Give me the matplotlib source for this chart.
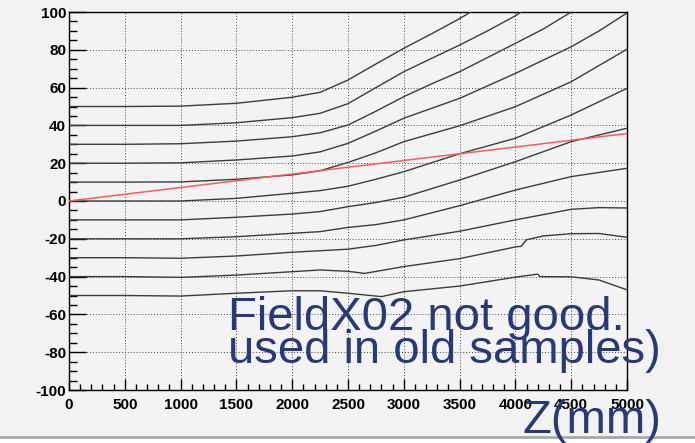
import matplotlib
matplotlib.use("Agg")
import matplotlib.pyplot as plt
from matplotlib.lines import Line2D
from matplotlib.patches import Rectangle
from matplotlib.ticker import MultipleLocator

plt.rcParams["axes.unicode_minus"] = False

# field lines: z position (mm) and transverse value
z_l1 = [0, 500, 1000, 1500, 2000, 2250, 2500, 2750, 3000, 3250, 3500, 3600]
v_l1 = [50, 50, 50.2, 51.7, 54.9, 57.5, 64, 72.5, 80.8, 88.5, 96.5, 100]

z_l2 = [0, 500, 1000, 1500, 2000, 2250, 2500, 2750, 3000, 3250, 3500, 3750, 4000, 4050]
v_l2 = [40, 40, 40, 41.4, 44.1, 46.4, 51.5, 60, 68.4, 75.5, 82.5, 90, 98, 100]

z_l3 = [0, 500, 1000, 1500, 2000, 2250, 2500, 2750, 3000, 3250, 3500, 4000, 4250, 4500]
v_l3 = [30, 30, 30.3, 31.7, 34, 36.1, 40.2, 47.5, 55.2, 62, 68.4, 83.4, 91, 100]

z_l4 = [0, 500, 1000, 1500, 2000, 2250, 2500, 2750, 3000, 3500, 4000, 4500, 4750, 5000]
v_l4 = [20, 20, 20.2, 21.7, 23.8, 26, 30.5, 37, 43.8, 54.3, 67.5, 81.6, 90, 99.5]

z_l5 = [0, 500, 1000, 1500, 2000, 2250, 2500, 2750, 3000, 3500, 4000, 4500, 5000]
v_l5 = [10, 10, 10.1, 11.5, 13.8, 16, 20.4, 25.5, 31.4, 39.8, 49.9, 63.1, 80.3]

z_l6 = [0, 500, 1000, 1500, 2000, 2250, 2500, 2750, 3000, 3500, 4000, 4500, 5000]
v_l6 = [0, 0, 0, 1.4, 4.1, 5.5, 7.8, 11.5, 15.5, 25, 33.2, 45.5, 59.6]

z_l7 = [0, 500, 1000, 1500, 2000, 2250, 2500, 2750, 3000, 3500, 4000, 4500, 5000]
v_l7 = [-10, -10, -10, -8.6, -6.9, -5.6, -3, -0.8, 2, 11.1, 20.8, 31.4, 38.5]

z_l8 = [0, 500, 1000, 1500, 2000, 2250, 2500, 2750, 3000, 3500, 4000, 4500, 5000]
v_l8 = [-20, -20, -20, -18.9, -17.1, -16.2, -14, -12.5, -10, -2.5, 5.8, 12.9, 17.3]

z_l9 = [0, 500, 1000, 1500, 2000, 2250, 2500, 2750, 3000, 3500, 4000, 4500, 4750, 5000]
v_l9 = [-30, -30, -30.3, -29.1, -27.1, -26.3, -25.5, -23.5, -20.6, -16, -10, -4.4, -3.5, -3.7]

z_l10 = [0, 500, 1000, 1500, 2000, 2250, 2500, 2650, 3000, 3500, 4000, 4050, 4100,
         4250, 4500, 4750, 5000]
v_l10 = [-40, -40, -40.4, -39.2, -37.4, -36.5, -37.2, -38.3, -34.7, -30.5, -24.3, -24,
         -20.5, -18.5, -17.3, -17.2, -19.2]

z_l11 = [0, 500, 1000, 1500, 2000, 2250, 2500, 2800, 3000, 3500, 4000, 4200, 4220,
         4500, 4750, 5000]
v_l11 = [-50, -50, -50.3, -48.8, -47.5, -47.5, -48.8, -50.6, -48, -45, -40.3, -38.7,
         -40, -40.1, -41.8, -47]

field_lines = [(z_l1, v_l1), (z_l2, v_l2), (z_l3, v_l3), (z_l4, v_l4), (z_l5, v_l5),
               (z_l6, v_l6), (z_l7, v_l7), (z_l8, v_l8), (z_l9, v_l9), (z_l10, v_l10),
               (z_l11, v_l11)]

# straight reference line
z_ref = [0, 5000]
v_ref = [0, 35.7]

W, H = 695, 443
fig = plt.figure(figsize=(W / 100, H / 100), dpi=100, facecolor="#f2f2f2")
ax = fig.add_axes([69 / W, 1 - 390 / H, (627 - 69) / W, (390 - 12) / H])
ax.set_facecolor("#f3f3f3")

for z, v in field_lines:
    ax.plot(z, v, color="#3c3c3c", lw=1.0, zorder=3)
ax.plot(z_ref, v_ref, color="#ff5a5a", lw=1.1, zorder=4)

ax.set_xlim(0, 5000)
ax.set_ylim(-100, 100)
ax.xaxis.set_major_locator(MultipleLocator(500))
ax.xaxis.set_minor_locator(MultipleLocator(100))
ax.yaxis.set_major_locator(MultipleLocator(20))
ax.yaxis.set_minor_locator(MultipleLocator(5))
ax.grid(True, which="major", color="#444444", lw=0.7, linestyle=(0, (1, 2)))

ax.tick_params(axis="y", which="major", direction="in", length=12, width=1,
               right=False, pad=2)
ax.tick_params(axis="y", which="minor", direction="in", length=6, width=1, right=False)
ax.tick_params(axis="x", which="major", direction="in", length=8, width=1,
               top=False, pad=6)
ax.tick_params(axis="x", which="minor", direction="in", length=4, width=1, top=False)
for lab in ax.get_xticklabels() + ax.get_yticklabels():
    lab.set_fontfamily("Liberation Sans")
    lab.set_fontweight("bold")
    lab.set_fontsize(11)
for sp in ax.spines.values():
    sp.set_linewidth(1.0)

# white strip and grey rule at the bottom of the canvas
fig.patches.append(Rectangle((0, 0), 1, 6 / H, transform=fig.transFigure,
                             facecolor="white", edgecolor="none", zorder=0))
fig.lines.append(Line2D([0, 1], [6.5 / H, 6.5 / H], transform=fig.transFigure,
                        color="#a8a8a8", lw=2, zorder=1))

txt = dict(color="#27397a", family="Liberation Sans", fontsize=34, va="baseline",
           zorder=10)
fig.text(228 / W, 1 - 330 / H, "FieldX02 not good.", **txt)
fig.text(228 / W, 1 - 363 / H, "used in old samples)", **txt)
fig.text(522 / W, 1 - 433 / H, "Z(mm)", **txt)

fig.savefig("out.png", dpi=100, facecolor=fig.get_facecolor())
